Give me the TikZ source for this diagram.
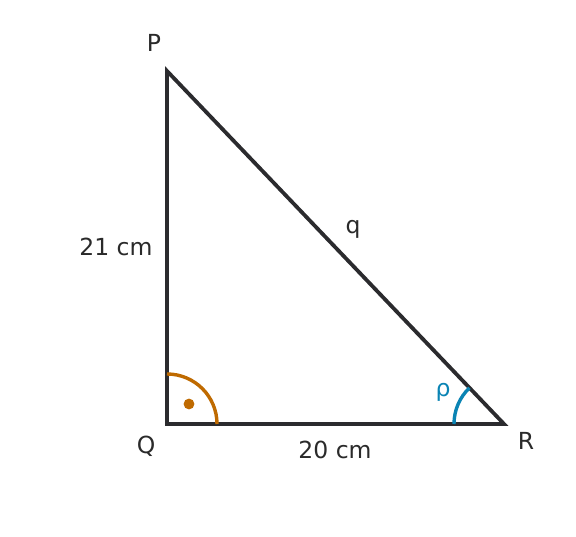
\documentclass[tikz,border=0pt]{standalone}
\usepackage{fontspec}
\setmainfont{DejaVu Sans}
\usepackage{tikz}
\usetikzlibrary{calc}
\definecolor{edgegray}{HTML}{2B2B2E}
\definecolor{textgray}{HTML}{2A2A2A}
\definecolor{rightorange}{HTML}{BF6A00}
\definecolor{angleblue}{HTML}{0A84B4}
\tikzstyle{side} = [draw=edgegray, line width=3.8pt, line join=miter]
\tikzstyle{lbl} = [text=textgray, font=\fontsize{23.5}{28}\selectfont, inner sep=0pt]
\tikzstyle{anglemark} = [line width=3.4pt]

\begin{document}
\begin{tikzpicture}[x=1pt,y=1pt]
\useasboundingbox (0,0) rectangle (576,537);
\coordinate (P) at (167,466);
\coordinate (Q) at (167,113);
\coordinate (R) at (504,113);

\draw[side] (P) -- (Q) -- (R) -- cycle;

% right angle at Q
\draw[anglemark, draw=rightorange] ($(Q)+(50,0)$) arc[start angle=0, end angle=90, radius=50];
\fill[rightorange] (189,133) circle (5.4);

% angle at R
\draw[anglemark, draw=angleblue] ($(R)+(-50,0)$) arc[start angle=180, end angle=133.7, radius=50];

\node[lbl] (lP) at (154,494) {P};
\node[lbl] (lQ) at (146,91) {Q};
\node[lbl] (lR) at (526,96) {R};
\node[lbl] (lq) at (353,308) {q};
\node[lbl] (lpq) at (116,290) {21 cm};
\node[lbl] (lqr) at (335,87) {20 cm};
\node[lbl, text=angleblue] (lrho) at (443,145) {ρ};
\end{tikzpicture}
\end{document}
